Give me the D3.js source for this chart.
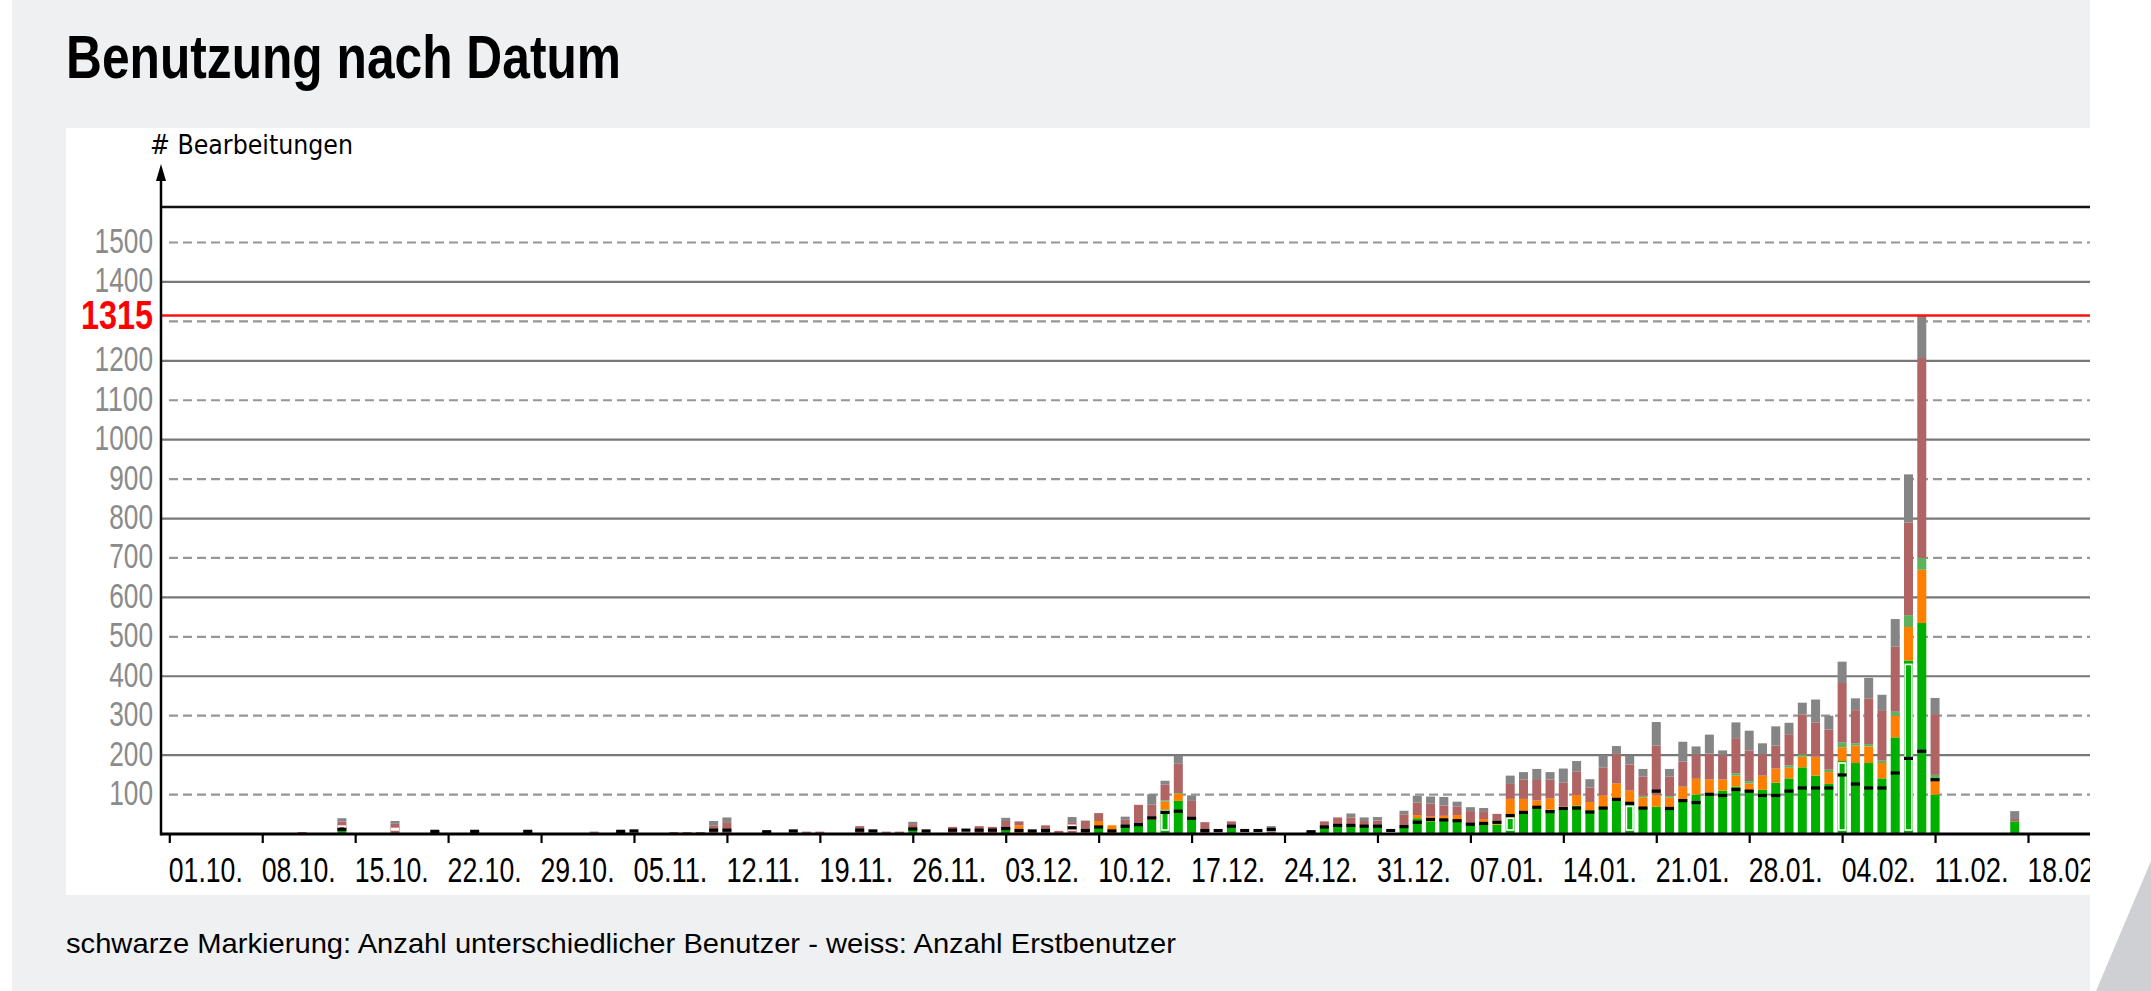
<!DOCTYPE html>
<html><head><meta charset="utf-8">
<script src="https://cdn.jsdelivr.net/npm/d3@7"></script>
<style>html,body{margin:0;padding:0;background:#fff;overflow:hidden} svg{display:block}</style>
</head><body><svg id="c" width="2151" height="991"></svg>
<script>
// ---------------- data ----------------
const titleText = "Benutzung nach Datum";
const yAxisTitle = "# Bearbeitungen";
const footerText = "schwarze Markierung: Anzahl unterschiedlicher Benutzer - weiss: Anzahl Erstbenutzer";
const firstDay = new Date(Date.UTC(2017, 9, 1));
const lastDay = new Date(Date.UTC(2018, 1, 18));
const tickLabels = ["01.10.","08.10.","15.10.","22.10.","29.10.","05.11.","12.11.","19.11.","26.11.","03.12.","10.12.","17.12.","24.12.","31.12.","07.01.","14.01.","21.01.","28.01.","04.02.","11.02.","18.02."];
const yTicks = [100,200,300,400,500,600,700,800,900,1000,1100,1200,1300,1400,1500];
const yTickLabels = [100,200,300,400,500,600,700,800,900,1000,1100,1200,1400,1500];
const maxValue = 1315;

// segment sizes per day (01.10. ... 18.02.), stacked bottom -> top
const green = [
 0,0,0,0,0,0,0,0,0,0,
 0,0,0,12,0,0,0,0,0,0,
 0,0,0,0,0,0,0,0,0,0,
 0,0,0,0,0,0,0,0,0,0,
 0,0,0,0,0,0,0,0,0,0,
 0,0,0,0,0,0,12,0,0,0,
 0,0,0,13,0,0,0,0,0,0,
 15,0,22,26,36,62,84,36,0,0,
 20,0,0,0,0,0,0,18,22,22,
 20,20,0,17,40,32,34,34,24,26,
 24,42,55,64,62,62,72,60,66,84,
 76,66,69,68,82,100,105,110,120,112,
 112,130,141,169,148,127,185,180,180,141,
 245,440,535,100,0,0,0,0,0,32,
 0];
const orange = [
 0,0,0,0,0,0,0,0,0,0,
 0,0,0,0,0,0,0,0,0,0,
 0,0,0,0,0,0,0,0,0,0,
 0,0,0,0,0,0,0,0,0,0,
 0,0,0,0,0,0,0,0,0,0,
 0,0,0,0,0,0,0,0,0,0,
 0,0,0,0,22,6,0,0,0,0,
 18,22,0,0,0,20,18,0,0,0,
 0,0,0,0,0,0,0,0,0,0,
 0,0,0,5,8,12,12,14,0,12,
 10,47,34,21,28,8,27,21,32,44,
 34,27,29,24,38,40,33,28,28,16,
 36,36,27,27,48,30,35,44,42,39,
 55,85,135,35,0,0,0,0,0,0,
 0];
const lightGreen = [
 0,0,0,0,0,0,0,0,0,0,
 0,0,0,0,0,0,0,0,0,0,
 0,0,0,0,0,0,0,0,0,0,
 0,0,0,0,0,0,0,0,0,0,
 0,0,0,0,0,0,0,0,0,0,
 0,0,0,0,0,0,0,0,0,0,
 0,0,0,0,0,0,0,0,0,0,
 0,0,0,0,0,3,2,0,0,0,
 0,0,0,0,0,0,0,0,0,0,
 0,0,0,0,0,0,0,0,0,0,
 0,0,0,0,0,0,0,0,0,0,
 0,4,0,4,0,0,0,0,6,6,
 0,0,6,6,0,6,12,6,6,6,
 10,30,30,15,0,0,0,0,0,0,
 0];
const rose = [
 0,0,0,0,0,0,0,0,0,0,
 5,0,0,20,0,0,0,26,0,0,
 8,0,0,8,0,0,0,8,0,0,
 0,0,6,0,8,4,0,0,5,5,
 5,22,30,0,0,8,0,4,6,6,
 0,0,20,4,6,6,13,4,0,18,
 4,20,18,20,10,0,22,8,30,34,
 20,0,14,48,39,40,74,48,30,3,
 12,2,2,6,0,0,8,14,20,20,
 13,14,2,28,32,33,26,22,34,20,
 17,38,49,52,48,60,60,37,70,75,
 66,49,126,50,64,62,66,62,89,78,
 54,58,79,101,87,102,151,84,116,128,
 165,235,507,154,0,0,0,0,0,6,
 0];
const gray = [
 0,0,0,0,0,0,0,0,0,0,
 0,0,0,8,0,0,0,7,0,0,
 0,0,0,0,0,0,0,0,0,0,
 0,0,0,0,0,0,0,0,0,0,
 0,11,12,0,0,0,0,0,0,0,
 0,0,0,0,0,0,6,0,0,0,
 0,0,0,8,0,0,0,0,13,0,
 0,0,8,0,26,10,21,14,0,0,
 0,0,0,14,0,0,0,0,0,10,
 9,9,0,9,17,18,22,12,10,8,
 0,21,19,28,19,36,26,21,32,20,
 22,19,60,19,50,20,48,12,40,50,
 28,49,29,30,58,35,54,30,52,39,
 70,122,108,41,0,0,0,0,0,20,
 0];
// black marker: distinct users
const distinctUsers = [
 0,0,0,0,0,0,0,0,0,0,
 0,0,0,12,0,0,0,0,0,0,
 7,0,0,7,0,0,0,7,0,0,
 0,0,0,0,7,8,0,0,0,0,
 0,10,10,0,0,6,0,8,0,0,
 0,0,10,8,0,0,13,8,0,10,
 10,10,10,14,9,8,9,0,16,9,
 18,8,20,24,41,55,58,40,9,9,
 20,9,9,12,0,0,6,18,22,22,
 20,20,9,19,30,37,36,34,25,27,
 30,47,55,68,57,65,66,56,66,88,
 78,66,109,65,85,80,101,98,113,109,
 98,98,109,117,117,117,150,127,117,117,
 155,192,210,138,0,0,0,0,0,0,
 0];
// white marker: first-time users
const firstUsers = [
 0,0,0,0,0,0,0,0,0,0,
 0,0,0,20,0,0,0,14,0,0,
 0,0,0,0,0,0,0,0,0,0,
 0,0,0,0,0,0,0,0,0,0,
 0,0,0,0,0,0,0,0,0,0,
 0,0,0,0,0,0,0,0,0,0,
 0,0,0,0,0,0,0,0,22,0,
 0,0,0,0,0,58,0,0,0,0,
 0,0,0,0,0,0,0,0,0,0,
 0,0,0,0,0,0,0,0,0,0,
 0,40,0,0,0,0,0,0,0,0,
 70,0,0,0,0,0,0,0,0,0,
 0,0,0,0,0,0,180,0,0,0,
 0,430,0,0,0,0,0,0,0,0,
 0];

const segKeys = ["green","orange","lightGreen","rose","gray"];
const segSeries = {green, orange, lightGreen, rose, gray};
const segColors = {green:"#00b000", orange:"#ff8000", lightGreen:"#5cb35c", rose:"#b06464", gray:"#858585"};

// ---------------- drawing ----------------
const svg = d3.select("#c");
const W = 2151, H = 991;
const panel = {x0: 66, x1: 2090, y0: 128, y1: 895};
const axisX = 161, baseY = 834, topY = 207;

svg.append("rect").attr("width", W).attr("height", H).attr("fill", "#ffffff");
svg.append("rect").attr("x", 12).attr("y", 0).attr("width", panel.x1 - 12).attr("height", H).attr("fill", "#eff0f2");
svg.append("rect").attr("x", panel.x0).attr("y", panel.y0).attr("width", panel.x1 - panel.x0).attr("height", panel.y1 - panel.y0).attr("fill", "#ffffff");
svg.append("path").attr("d", `M${W},${H-130} L${W},${H} L${W-55},${H} Z`).attr("fill", "#cfd0d3");

function txt(g, s, x, y, size, len, opts = {}) {
  return g.append("text").attr("x", x).attr("y", y)
    .attr("font-family", opts.family || "Liberation Sans, Arial, sans-serif")
    .attr("font-size", size).attr("font-weight", opts.weight || "normal")
    .attr("fill", opts.fill || "#000")
    .attr("textLength", len).attr("lengthAdjust", "spacingAndGlyphs")
    .text(s);
}

txt(svg, titleText, 66, 78, 61, 555, {weight: "bold"});
txt(svg, footerText, 66, 953, 28, 1110);

const days = d3.utcDay.range(firstDay, d3.utcDay.offset(lastDay, 1));
const x = d3.scaleUtc().domain([firstDay, lastDay]).range([169.3, 2028]);
const y = d3.scaleLinear().domain([0, 1590]).range([baseY, topY]);

svg.append("clipPath").attr("id", "pc").append("rect")
  .attr("x", panel.x0).attr("y", panel.y0).attr("width", panel.x1 - panel.x0).attr("height", panel.y1 - panel.y0);
const g = svg.append("g").attr("clip-path", "url(#pc)");

// gridlines
g.selectAll("line.grid").data(yTicks).join("line")
  .attr("x1", d => (d / 100) % 2 === 0 ? axisX : 169).attr("x2", panel.x1)
  .attr("y1", d => y(d)).attr("y2", d => y(d))
  .attr("stroke", d => (d / 100) % 2 === 0 ? "#777777" : "#969696")
  .attr("stroke-width", 2.2)
  .attr("stroke-dasharray", d => (d / 100) % 2 === 0 ? null : "9,5");
g.append("line").attr("x1", axisX).attr("x2", panel.x1).attr("y1", topY).attr("y2", topY)
  .attr("stroke", "#111").attr("stroke-width", 2.5);

// stacked bars
const stackData = days.map((d, i) => {
  const o = {date: d};
  segKeys.forEach(k => o[k] = segSeries[k][i]);
  return o;
});
const stacked = d3.stack().keys(segKeys)(stackData);
const bw = 9;
stacked.forEach(layer => {
  g.append("g").selectAll("rect").data(layer.filter(p => p[1] > p[0])).join("rect")
    .attr("x", p => x(p.data.date) - bw / 2).attr("width", bw)
    .attr("y", p => y(p[1])).attr("height", p => y(p[0]) - y(p[1]))
    .attr("fill", segColors[layer.key]);
});
// white markers (first-time users)
g.append("g").selectAll("rect").data(days.map((d, i) => ({d, v: firstUsers[i]})).filter(o => o.v > 0)).join("rect")
  .attr("x", o => x(o.d) - bw / 2 + 1.2).attr("width", bw - 2.4)
  .attr("y", o => y(o.v)).attr("height", o => Math.max(0, baseY - 4 - y(o.v)))
  .attr("fill", "none").attr("stroke", "#ffffff").attr("stroke-width", 1.6);
// black markers (distinct users)
g.append("g").selectAll("rect").data(days.map((d, i) => ({d, v: distinctUsers[i]})).filter(o => o.v > 0)).join("rect")
  .attr("x", o => x(o.d) - bw / 2).attr("width", bw)
  .attr("y", o => y(o.v) - 1.5).attr("height", 3.2)
  .attr("fill", "#000");

// max line
g.append("line").attr("x1", axisX).attr("x2", panel.x1).attr("y1", y(maxValue)).attr("y2", y(maxValue))
  .attr("stroke", "#ff1010").attr("stroke-width", 2.6);

// x axis
const tickDates = tickLabels.map((_, i) => d3.utcDay.offset(firstDay, i * 7));
const xAxis = d3.axisBottom(x).tickValues(tickDates).tickSize(9).tickSizeOuter(0)
  .tickFormat((d, i) => tickLabels[i]);
const xa = g.append("g").attr("transform", `translate(0,${baseY})`).call(xAxis);
xa.select(".domain").remove();
xa.selectAll(".tick line").attr("stroke", "#000").attr("stroke-width", 2.2);
xa.selectAll(".tick text")
  .attr("text-anchor", "start").attr("x", -1).attr("y", 48).attr("dy", null)
  .attr("font-family", "Liberation Sans, Arial, sans-serif").attr("font-size", 35)
  .attr("fill", "#000").attr("textLength", 74).attr("lengthAdjust", "spacingAndGlyphs");
g.append("line").attr("x1", axisX).attr("x2", panel.x1).attr("y1", baseY).attr("y2", baseY)
  .attr("stroke", "#000").attr("stroke-width", 3);

// y axis (1300 label is replaced by the red maximum label)
const yAxis = d3.axisLeft(y).tickValues(yTickLabels).tickSize(0).tickFormat(d3.format("d"));
const ya = svg.append("g").attr("transform", `translate(${axisX},0)`).call(yAxis);
ya.select(".domain").remove();
ya.selectAll(".tick text")
  .attr("text-anchor", "start")
  .attr("x", d => -8 - String(d).length * 14.6)
  .attr("dy", 10)
  .attr("font-family", "Liberation Sans, Arial, sans-serif").attr("font-size", 35)
  .attr("fill", "#8a8a8a")
  .attr("textLength", d => String(d).length * 14.6).attr("lengthAdjust", "spacingAndGlyphs");
txt(svg, String(maxValue), 153 - 72, y(maxValue) + 14, 40, 72, {weight: "bold", fill: "#ff0000"});

svg.append("line").attr("x1", axisX).attr("x2", axisX).attr("y1", 176).attr("y2", baseY + 1.5)
  .attr("stroke", "#000").attr("stroke-width", 2.5);
svg.append("path").attr("d", `M${axisX},164 L${axisX - 5},181 L${axisX + 5},181 Z`).attr("fill", "#000");
txt(svg, yAxisTitle, 150, 154, 26, 203, {family: "DejaVu Sans, Verdana, sans-serif"});
</script>
</body></html>
